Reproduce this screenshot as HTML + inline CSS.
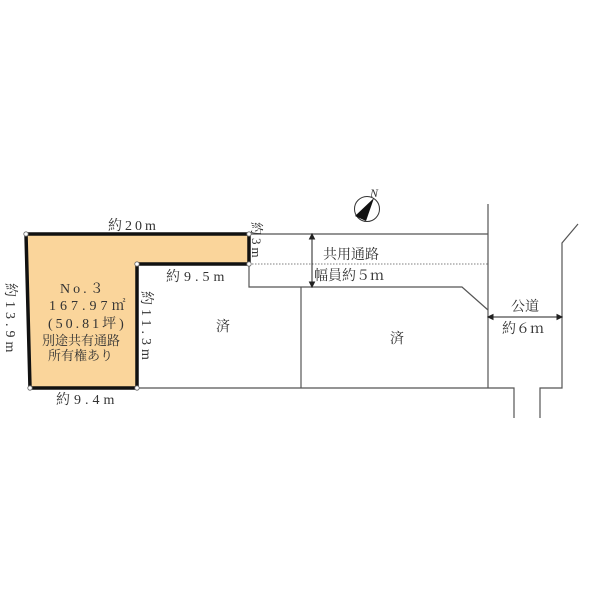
<!DOCTYPE html>
<html><head><meta charset="utf-8"><style>
html,body{margin:0;padding:0;background:#fff;}
svg text{font-family:"Liberation Serif","Noto Serif CJK SC",serif;fill:#333;}
</style></head><body>
<svg width="600" height="600" viewBox="0 0 600 600" xmlns="http://www.w3.org/2000/svg">
<g stroke="#555" stroke-width="1.2" fill="none">
<line x1="249" y1="234" x2="488" y2="234"/>
<line x1="249" y1="264" x2="488" y2="264" stroke-dasharray="1.5,1.5" stroke="#999"/>
<polyline points="249,264 249,287 462,287 488,310"/>
<line x1="488" y1="204" x2="488" y2="388"/>
<line x1="301" y1="287" x2="301" y2="388"/>
<polyline points="137,388 514,388 514,418"/>
<polyline points="540,418 540,388 562,388 562,243 578,224"/>
</g>
<polygon points="26,234 249,234 249,264 137,264 137,388 30,388" fill="#fad59b" stroke="#111" stroke-width="3.5"/>
<g fill="#fff" stroke="#666" stroke-width="0.8">
<circle cx="26" cy="234" r="2.2"/><circle cx="249" cy="234" r="2.2"/><circle cx="249" cy="264" r="2.2"/>
<circle cx="137" cy="264" r="2.2"/><circle cx="137" cy="388" r="2.2"/><circle cx="30" cy="388" r="2.2"/>
</g>
<g stroke="#222" stroke-width="1" fill="#222">
<line x1="312" y1="237" x2="312" y2="284"/>
<polygon points="312,234 309.5,239 314.5,239"/><polygon points="312,287 309.5,282 314.5,282"/>
<line x1="491" y1="317" x2="559" y2="317"/>
<polygon points="488,317 493,314.5 493,319.5"/><polygon points="562,317 557,314.5 557,319.5"/>
</g>
<circle cx="367" cy="209" r="12.5" fill="#fff" stroke="#333" stroke-width="1"/>
<polygon points="374,198 355,216 366,221" fill="#111"/>
<text x="370" y="197" font-size="12" font-style="italic" font-family="Liberation Sans">N</text>
<g font-size="14">
<text x="108" y="230" letter-spacing="3">約20m</text>
<text x="166" y="281" letter-spacing="4">約9.5m</text>
<text x="56" y="404" letter-spacing="4">約9.4m</text>
<text x="323" y="259">共用通路</text>
<text x="314" y="280">幅員約５ｍ</text>
<text x="511" y="311">公道</text>
<text x="502" y="333">約６ｍ</text>
<text x="216" y="331">済</text>
<text x="390" y="343">済</text>
<text x="60" y="293" letter-spacing="3">No.３</text>
<text x="49" y="310" letter-spacing="4">167.97㎡</text>
<text x="48" y="328" letter-spacing="3">(50.81坪)</text>
<text x="42" y="345" font-size="13">別途共有通路</text>
<text x="48" y="360" font-size="13">所有権あり</text>
<text transform="translate(252,222) rotate(90)" font-size="13" letter-spacing="3">約3m</text>
<text transform="translate(6,283) rotate(90)" letter-spacing="4">約13.9m</text>
<text transform="translate(142,291) rotate(90)" letter-spacing="4">約11.3m</text>
</g>
</svg>
</body></html>
